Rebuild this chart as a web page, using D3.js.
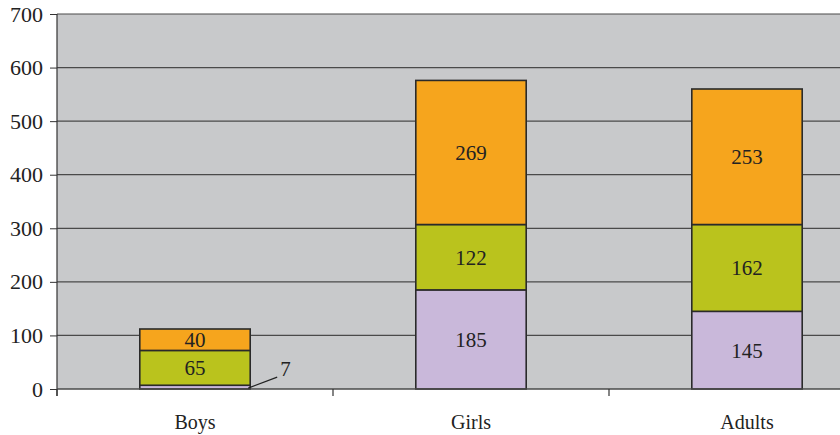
<!DOCTYPE html>
<html>
<head>
<meta charset="utf-8">
<script src="https://cdn.jsdelivr.net/npm/d3@7"></script>
<style>
  html, body { margin: 0; padding: 0; background: #ffffff; }
  svg { display: block; }
  text { font-family: "Liberation Serif", "Times New Roman", serif; fill: #222; }
</style>
</head>
<body>
<svg id="chart" width="840" height="435"></svg>
<script>
// ---- data ----
const categories = ["Boys", "Girls", "Adults"];
const seriesNames = ["bottom", "middle", "top"];
const bottomValues = [7, 185, 145];
const middleValues = [65, 122, 162];
const topValues = [40, 269, 253];
const yTicks = [0, 100, 200, 300, 400, 500, 600, 700];
const seriesColors = ["#C9B8DA", "#BAC31D", "#F6A51D"];

// ---- layout ----
const W = 840, H = 435;
const left = 57, plotTop = 14, plotBottom = 389;
const svg = d3.select("#chart");

const x = d3.scaleBand().domain(categories).range([left, left + 828])
  .paddingInner(0.6).paddingOuter(0.3);
const y = d3.scaleLinear().domain([0, 700]).range([plotBottom, plotTop]);

const table = categories.map((c, i) => ({
  cat: c, bottom: bottomValues[i], middle: middleValues[i], top: topValues[i]
}));
const stacked = d3.stack().keys(seriesNames)(table);

// background
svg.append("rect").attr("x", left).attr("y", y(700)).attr("width", W - left)
  .attr("height", y(0) - y(700)).attr("fill", "#C8C9CB");

// gridlines
svg.append("g").selectAll("line").data(yTicks.filter(t => t > 0)).join("line")
  .attr("x1", left).attr("x2", W).attr("y1", d => y(d)).attr("y2", d => y(d))
  .attr("stroke", "#4a4a4a").attr("stroke-width", 1.2);

// bars
const layers = svg.append("g").selectAll("g").data(stacked).join("g")
  .attr("fill", (d, i) => seriesColors[i]);
layers.selectAll("rect").data(d => d).join("rect")
  .attr("x", d => x(d.data.cat))
  .attr("width", x.bandwidth())
  .attr("y", d => y(d[1]))
  .attr("height", d => y(d[0]) - y(d[1]))
  .attr("stroke", "#2a2a2a").attr("stroke-width", 1.6);

// axes
const yAxis = d3.axisLeft(y).tickValues(yTicks).tickSize(7).tickPadding(7);
const gy = svg.append("g").attr("transform", `translate(${left},0)`).call(yAxis);
gy.select(".domain").remove();
gy.selectAll(".tick line").attr("stroke", "#333");
gy.selectAll(".tick text").style("font-family", '"Liberation Serif", "Times New Roman", serif')
  .style("font-size", "22px").attr("fill", "#222");

svg.append("line").attr("x1", left).attr("x2", left).attr("y1", y(700)).attr("y2", plotBottom + 7)
  .attr("stroke", "#333").attr("stroke-width", 1.2);
svg.append("line").attr("x1", left).attr("x2", W).attr("y1", plotBottom).attr("y2", plotBottom)
  .attr("stroke", "#4a4a4a").attr("stroke-width", 1.4);

// x ticks at band boundaries
const bounds = d3.range(categories.length + 1).map(i => x.range()[0] + i * x.step());
svg.append("g").selectAll("line").data(bounds).join("line")
  .attr("x1", d => d).attr("x2", d => d).attr("y1", plotBottom).attr("y2", plotBottom + 7)
  .attr("stroke", "#333").attr("stroke-width", 1.2);

// category labels
svg.append("g").selectAll("text").data(categories).join("text")
  .attr("x", d => x(d) + x.bandwidth() / 2).attr("y", 429)
  .attr("text-anchor", "middle").style("font-size", "20px").text(d => d);

// value labels
const minInside = 15;
stacked.forEach(layer => {
  layer.forEach(d => {
    const v = d[1] - d[0];
    const cx = x(d.data.cat) + x.bandwidth() / 2;
    const cy = (y(d[0]) + y(d[1])) / 2;
    if (y(d[0]) - y(d[1]) >= minInside) {
      svg.append("text").attr("x", cx).attr("y", cy).attr("dy", "0.35em")
        .attr("text-anchor", "middle").style("font-size", "21px").text(v);
    } else {
      const xr = x(d.data.cat) + x.bandwidth();
      svg.append("line").attr("x1", xr - 2).attr("y1", cy + 1)
        .attr("x2", xr + 27).attr("y2", cy - 10)
        .attr("stroke", "#222").attr("stroke-width", 1.2);
      svg.append("text").attr("x", xr + 30).attr("y", cy - 11)
        .style("font-size", "21px").text(v);
    }
  });
});
</script>
</body>
</html>
